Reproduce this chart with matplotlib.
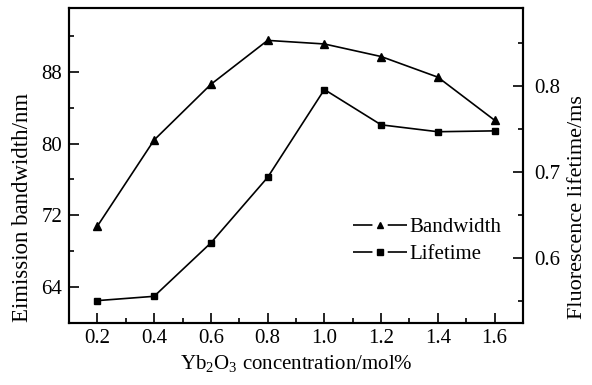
import numpy as np
import matplotlib
matplotlib.use('Agg')
import matplotlib.pyplot as plt
from matplotlib.ticker import MultipleLocator
from matplotlib.lines import Line2D

plt.rcParams['font.family'] = ['Liberation Serif', 'DejaVu Serif']
plt.rcParams['mathtext.fontset'] = 'custom'
plt.rcParams['mathtext.rm'] = 'Liberation Serif'

conc = [0.2, 0.4, 0.6, 0.8, 1.0, 1.2, 1.4, 1.6]  # Yb2O3 concentration [mol%]
bandwidth = [70.8, 80.4, 86.6, 91.5, 91.1, 89.7, 87.4, 82.6]  # [nm]
lifetime = [0.551, 0.556, 0.618, 0.694, 0.796, 0.755, 0.747, 0.748]  # [ms]

FS = 15
LW = 1.2

fig = plt.figure(figsize=(5.92, 3.85), dpi=100)
ax = fig.add_axes([0.1166, 0.161, 0.7668, 0.818])
ax2 = ax.twinx()

ax.plot(conc, bandwidth, color='k', lw=LW, marker='^', ms=6)
ax2.plot(conc, lifetime, color='k', lw=LW, marker='s', ms=5)

ax.set_xlim(0.1, 1.7)
ax.set_ylim(60, 95.1)
ax2.set_ylim(0.525, 0.8905)

ax.xaxis.set_major_locator(MultipleLocator(0.2))
ax.xaxis.set_minor_locator(MultipleLocator(0.1))
ax.yaxis.set_major_locator(MultipleLocator(8))
ax.yaxis.set_minor_locator(MultipleLocator(4))
ax2.yaxis.set_major_locator(MultipleLocator(0.1))
ax2.yaxis.set_minor_locator(MultipleLocator(0.05))
ax.set_xticks(conc)
ax.set_xticklabels(['%.1f' % c for c in conc])

for a in (ax, ax2):
    a.tick_params(which='both', direction='in', labelsize=FS, top=False)
    a.tick_params(which='major', length=7, width=1.2)
    a.tick_params(which='minor', length=3.5, width=1.2)
    for s in a.spines.values():
        s.set_linewidth(1.5)
ax.tick_params(which='both', right=False)
ax.tick_params(axis='x', pad=4)
ax.tick_params(axis='y', pad=5)
ax2.tick_params(axis='y', pad=8)

ax.set_xlabel(r'Yb$_2$O$_3$ concentration/mol%', fontsize=FS, labelpad=4)
ax.set_ylabel('Eimission bandwidth/nm', fontsize=16.5)
ax2.set_ylabel('Fluorescence lifetime/ms', fontsize=16)
ax.yaxis.set_label_coords(-0.08, 0.368)
ax2.yaxis.set_label_coords(1.1, 0.368)

# legend handles: short line, gap, marker, gap, short line
dash = (14 / LW, 11 / LW)
h1 = Line2D([], [], color='k', lw=LW, marker='^', ms=5, dashes=dash)
h2 = Line2D([], [], color='k', lw=LW, marker='s', ms=4.5, dashes=dash)
ax2.legend([h1, h2], ['Bandwidth', 'Lifetime'], frameon=False, fontsize=FS,
           loc='upper left', bbox_to_anchor=(0.626, 0.335), handlelength=2.6,
           handletextpad=0.1, labelspacing=0.35, borderpad=0, borderaxespad=0)

fig.savefig('out.png', dpi=100)
